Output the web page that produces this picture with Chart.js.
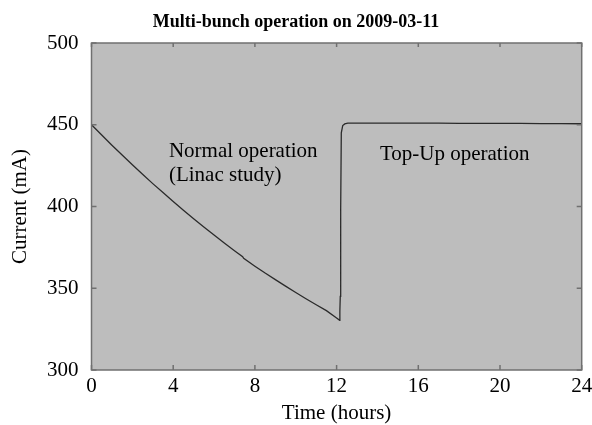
<!DOCTYPE html>
<html>
<head>
<meta charset="utf-8">
<script src="https://cdn.jsdelivr.net/npm/chart.js@4/dist/chart.umd.min.js"></script>
<style>
  body { margin: 0; background: #fff; }
  #wrap { width: 592px; height: 425px; }
</style>
</head>
<body>
<div id="wrap"><canvas id="beamChart" width="592" height="425"></canvas></div>
<script>
// beam current (hours, mA)
const timeHours = [0, 0.5, 1, 1.5, 2, 2.5, 3, 3.5, 4, 4.5, 5, 5.5, 6, 6.5, 7, 7.4, 7.45,
  8, 8.5, 9, 9.5, 10, 10.5, 11, 11.5, 12, 12.15, 12.16, 12.18, 12.2, 12.23, 12.3, 12.4,
  12.55, 13, 14, 15, 16, 17, 18, 19, 20, 21, 22, 23, 24];
const currentMA = [450, 443.7, 437.5, 431.5, 425.5, 419.7, 414, 408.5, 403, 397.7, 392.5,
  387.5, 382.5, 377.7, 373, 369.3, 368.3, 363.5, 359.3, 355.3, 351.3, 347.4, 343.6, 339.9,
  336.3, 331.8, 330.4, 336, 345, 398, 445, 449.5, 450.5, 451, 451, 451, 451, 451, 451,
  450.9, 450.9, 450.8, 450.8, 450.7, 450.7, 450.6];

const xTicks = [0, 4, 8, 12, 16, 20, 24];
const yTicks = [300, 350, 400, 450, 500];

const chartTitle = "Multi-bunch operation on 2009-03-11";
const notes = [
  { text: "Normal operation", x: 3.79, y: 430.5 },
  { text: "(Linac study)", x: 3.79, y: 415.6 },
  { text: "Top-Up operation", x: 14.12, y: 428.6 }
];

const serif = "'Liberation Serif', 'Times New Roman', serif";

const points = timeHours.map((t, i) => ({ x: t, y: currentMA[i] }));

const framePlugin = {
  id: "frame",
  beforeDraw(chart) {
    const { ctx, chartArea: a } = chart;
    ctx.save();
    ctx.fillStyle = "#bdbdbd";
    ctx.fillRect(a.left, a.top, a.right - a.left, a.bottom - a.top);
    ctx.restore();
  },
  afterDraw(chart) {
    const { ctx, chartArea: a, scales } = chart;
    ctx.save();
    ctx.strokeStyle = "#707070";
    ctx.lineWidth = 1.5;
    // inward tick marks on all four sides
    ctx.beginPath();
    xTicks.forEach(v => {
      const px = scales.x.getPixelForValue(v);
      ctx.moveTo(px, a.bottom); ctx.lineTo(px, a.bottom - 5);
      ctx.moveTo(px, a.top); ctx.lineTo(px, a.top + 4);
    });
    yTicks.forEach(v => {
      const py = scales.y.getPixelForValue(v);
      ctx.moveTo(a.left, py); ctx.lineTo(a.left + 5, py);
      ctx.moveTo(a.right, py); ctx.lineTo(a.right - 5, py);
    });
    ctx.stroke();
    ctx.strokeRect(a.left, a.top, a.right - a.left, a.bottom - a.top);

    // title
    ctx.fillStyle = "#000";
    ctx.font = "bold 18px " + serif;
    ctx.textAlign = "center";
    ctx.textBaseline = "alphabetic";
    ctx.fillText(chartTitle, 296, 27);

    // notes inside the plot
    ctx.font = "21px " + serif;
    ctx.textAlign = "left";
    notes.forEach(n => {
      ctx.fillText(n.text, scales.x.getPixelForValue(n.x), scales.y.getPixelForValue(n.y));
    });
    ctx.restore();
  }
};

new Chart("beamChart", {
  type: "scatter",
  data: {
    datasets: [
      {
        label: "Current",
        data: points,
        showLine: true,
        borderColor: "#2b2b2b",
        borderWidth: 1.3,
        pointRadius: 0,
        tension: 0
      }
    ]
  },
  options: {
    responsive: false,
    animation: false,
    layout: { padding: { top: 43, right: 0, left: 0, bottom: 0 } },
    plugins: {
      legend: { display: false },
      tooltip: { enabled: false }
    },
    scales: {
      x: {
        type: "linear",
        min: 0,
        max: 24,
        afterBuildTicks: s => { s.ticks = xTicks.map(v => ({ value: v })); },
        afterFit: s => { s.height = 55; s.paddingLeft = 0; s.paddingRight = 10.3; },
        grid: { display: false, drawTicks: false },
        border: { display: false },
        ticks: { color: "#000", padding: 4, maxRotation: 0, font: { family: serif, size: 21 } },
        title: {
          display: true,
          text: "Time (hours)",
          color: "#000",
          font: { family: serif, size: 21, lineHeight: 1 },
          padding: { top: 0, bottom: 1 }
        }
      },
      y: {
        min: 300,
        max: 500,
        afterBuildTicks: s => { s.ticks = yTicks.map(v => ({ value: v })); },
        afterFit: s => { s.width = 91.5; },
        grid: { display: false, drawTicks: false },
        border: { display: false },
        ticks: { color: "#000", padding: 13, font: { family: serif, size: 21 } },
        title: {
          display: true,
          text: "Current (mA)",
          color: "#000",
          font: { family: serif, size: 21, lineHeight: 1 },
          padding: { top: 10, bottom: 0 }
        }
      }
    }
  },
  plugins: [framePlugin]
});
</script>
</body>
</html>
